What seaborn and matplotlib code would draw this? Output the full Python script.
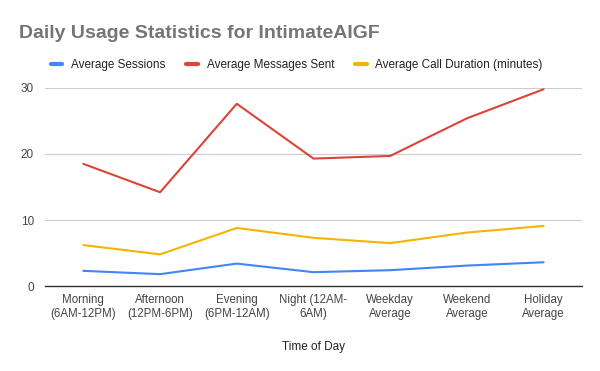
import matplotlib
matplotlib.use("Agg")
import matplotlib.pyplot as plt
import seaborn as sns
import pandas as pd

categories = ["Morning\n(6AM-12PM)", "Afternoon\n(12PM-6PM)", "Evening\n(6PM-12AM)",
              "Night (12AM-\n6AM)", "Weekday\nAverage", "Weekend\nAverage", "Holiday\nAverage"]
sessions = [2.3, 1.8, 3.4, 2.1, 2.4, 3.1, 3.6]
messages = [18.5, 14.2, 27.6, 19.3, 19.7, 25.4, 29.8]
call_duration = [6.2, 4.8, 8.8, 7.3, 6.5, 8.1, 9.1]

series_names = ["Average Sessions", "Average Messages Sent", "Average Call Duration (minutes)"]
colors = ["#4285F4", "#DB4437", "#F4B400"]

df = pd.DataFrame({"Time of Day": categories,
                   series_names[0]: sessions,
                   series_names[1]: messages,
                   series_names[2]: call_duration})
long = df.melt(id_vars="Time of Day", var_name="Series", value_name="Value")

sns.set_theme(style="white")
plt.rcParams["font.family"] = ["Liberation Sans", "DejaVu Sans"]

fig = plt.figure(figsize=(6, 3.71), dpi=100)
ax = fig.add_axes([0.075, 0.229, 0.895, 0.534])

sns.lineplot(data=long, x="Time of Day", y="Value", hue="Series",
             palette=dict(zip(series_names, colors)), sort=False,
             linewidth=1.5, ax=ax)

ax.set_ylim(0, 30)
ax.set_xlim(-0.5, len(categories) - 0.5)
ax.set_yticks([0, 10, 20, 30])
ax.grid(axis="y", color="#cccccc", linewidth=0.8)
ax.set_axisbelow(True)
for s in ["top", "right", "left"]:
    ax.spines[s].set_visible(False)
ax.spines["bottom"].set_color("#333333")
ax.spines["bottom"].set_linewidth(1.0)
ax.tick_params(axis="x", length=0, labelsize=8.3, colors="#444444", pad=6)
ax.tick_params(axis="y", length=0, labelsize=8.5, colors="#444444", pad=8)
ax.set_xlabel("Time of Day", fontsize=8.5, color="#222222", labelpad=15)
ax.set_ylabel("")

handles, labels = ax.get_legend_handles_labels()
for h in handles:
    h.set_linewidth(3)
ax.legend(handles, labels, loc="lower left", bbox_to_anchor=(0.002, 1.06), ncol=3,
          frameon=False, fontsize=8.5, handlelength=0.95, handletextpad=0.75,
          columnspacing=1.8, labelcolor="#222222", borderaxespad=0)

fig.text(0.032, 0.91, "Daily Usage Statistics for IntimateAIGF", fontsize=14,
         fontweight="bold", color="#757575", va="center", ha="left")

fig.savefig("out.png", dpi=100, facecolor="white")
